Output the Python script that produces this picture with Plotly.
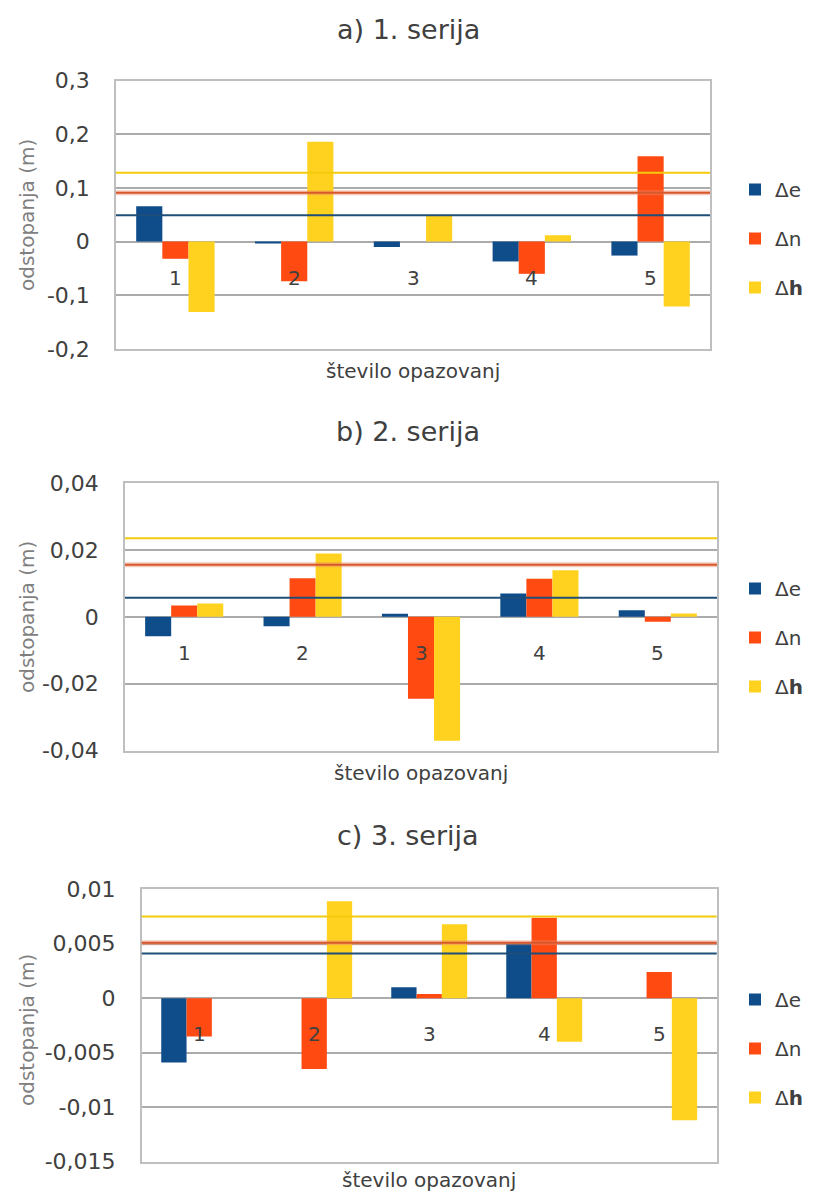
import plotly.graph_objects as go

# ---------------- data ----------------
categories = ["1", "2", "3", "4", "5"]
series_names = ["Δe", "Δn", "Δ<b>h</b>"]
series_colors = ["#0F4C8A", "#FF4A12", "#FFD21F"]
line_colors = ["#1F4E79", "#D9582B", "#F2CC0C"]

panel_titles = ["a) 1. serija", "b) 2. serija", "c) 3. serija"]
x_title = "število opazovanj"
y_title = "odstopanja (m)"

a_de = [0.066, -0.003, -0.010, -0.037, -0.026]
a_dn = [-0.032, -0.074, 0.0, -0.060, 0.159]
a_dh = [-0.131, 0.186, 0.048, 0.012, -0.121]
a_lines = [0.049, 0.091, 0.128]
a_ticks = [-0.2, -0.1, 0, 0.1, 0.2, 0.3]
a_ticktext = ["-0,2", "-0,1", "0", "0,1", "0,2", "0,3"]

b_de = [-0.0058, -0.0028, 0.0009, 0.0070, 0.0020]
b_dn = [0.0034, 0.0115, -0.0245, 0.0114, -0.0015]
b_dh = [0.0040, 0.0189, -0.0370, 0.0139, 0.0010]
b_lines = [0.0057, 0.0156, 0.0235]
b_ticks = [-0.04, -0.02, 0, 0.02, 0.04]
b_ticktext = ["-0,04", "-0,02", "0", "0,02", "0,04"]

c_de = [-0.0059, 0.0, 0.0010, 0.0050, 0.0]
c_dn = [-0.0035, -0.0065, 0.0004, 0.0074, 0.0024]
c_dh = [0.0, 0.0089, 0.0068, -0.0040, -0.0112]
c_lines = [0.0041, 0.0051, 0.0075]
c_ticks = [-0.015, -0.01, -0.005, 0, 0.005, 0.01]
c_ticktext = ["-0,015", "-0,01", "-0,005", "0", "0,005", "0,01"]

# ---------------- layout geometry ----------------
W, H = 813, 1194
FONT = "DejaVu Sans"
TXT = "#404040"

panels = [
    dict(series=[a_de, a_dn, a_dh], lines=a_lines, ticks=a_ticks, ticktext=a_ticktext,
         xdom=[116 / W, 710 / W], ydom=[1 - 349 / H, 1 - 80.5 / H],
         title_y=1 - 30 / H, xt_y=1 - 371 / H, yt_y=1 - 215 / H, leg_y=1 - 170 / H),
    dict(series=[b_de, b_dn, b_dh], lines=b_lines, ticks=b_ticks, ticktext=b_ticktext,
         xdom=[125 / W, 717 / W], ydom=[1 - 750.7 / H, 1 - 483 / H],
         title_y=1 - 431 / H, xt_y=1 - 773 / H, yt_y=1 - 617 / H, leg_y=1 - 569 / H),
    dict(series=[c_de, c_dn, c_dh], lines=c_lines, ticks=c_ticks, ticktext=c_ticktext,
         xdom=[141.7 / W, 716.7 / W], ydom=[1 - 1161.7 / H, 1 - 889.3 / H],
         title_y=1 - 835 / H, xt_y=1 - 1180 / H, yt_y=1 - 1030 / H, leg_y=1 - 980 / H),
]

fig = go.Figure()
annotations = []
shapes = []
layout = {}

for p_i, p in enumerate(panels):
    sfx = "" if p_i == 0 else str(p_i + 1)
    xa, ya = "x" + sfx, "y" + sfx
    legname = "legend" + sfx
    for s_i, vals in enumerate(p["series"]):
        fig.add_trace(go.Bar(
            x=categories, y=vals, name=series_names[s_i],
            marker=dict(color=series_colors[s_i], line=dict(width=0)),
            xaxis=xa, yaxis=ya, legend=legname,
            legendgroup=f"g{p_i}_{s_i}",
        ))
    layout["xaxis" + sfx] = dict(
        domain=p["xdom"], anchor=ya, type="category", automargin=False,
        showticklabels=False, showgrid=False, zeroline=False,
        showline=True, mirror=True, linecolor="#BFBFBF", linewidth=1.5, ticks="",
    )
    tk = p["ticks"]
    layout["yaxis" + sfx] = dict(
        domain=p["ydom"], anchor=xa, range=[tk[0], tk[-1]], automargin=False,
        tickvals=tk, ticktext=p["ticktext"],
        tickfont=dict(family=FONT, size=22, color=TXT),
        ticklabelstandoff=20,
        showgrid=True, gridcolor="#ABABAB", gridwidth=1.5,
        zeroline=True, zerolinecolor="#ABABAB", zerolinewidth=1.5,
        showline=True, mirror=True, linecolor="#BFBFBF", linewidth=1.5, ticks="",
    )
    layout[legname] = dict(
        x=735 / W, xanchor="left", y=p["leg_y"], yanchor="top",
        font=dict(family=FONT, size=20, color=TXT),
        bgcolor="rgba(0,0,0,0)", tracegroupgap=20, traceorder="grouped",
        itemwidth=30,
    )
    # reference lines
    for l_i, v in enumerate(p["lines"]):
        if l_i == 1:
            shapes.append(dict(type="line", xref=xa + " domain", yref=ya, x0=0, x1=1, y0=v, y1=v,
                               line=dict(color="rgba(230,140,110,0.45)", width=5), layer="above"))
        shapes.append(dict(type="line", xref=xa + " domain", yref=ya, x0=0, x1=1, y0=v, y1=v,
                           line=dict(color=line_colors[l_i], width=2), layer="above"))
    # category labels near the zero line (category index positions)
    for c_i, c in enumerate(categories):
        annotations.append(dict(x=c_i, y=0, xref=xa, yref=ya, text=c, showarrow=False,
                                yshift=-36, font=dict(family=FONT, size=20, color=TXT)))
    # panel title
    annotations.append(dict(x=408 / W, y=p["title_y"], xref="paper", yref="paper",
                            text=panel_titles[p_i], showarrow=False, yanchor="middle",
                            font=dict(family=FONT, size=27, color=TXT)))
    # x title
    annotations.append(dict(x=(p["xdom"][0] + p["xdom"][1]) / 2, y=p["xt_y"], xref="paper", yref="paper",
                            text=x_title, showarrow=False, yanchor="middle",
                            font=dict(family=FONT, size=20, color=TXT)))
    # y title
    annotations.append(dict(x=27 / W, y=p["yt_y"], xref="paper", yref="paper",
                            text=y_title, showarrow=False, textangle=-90,
                            xanchor="center", yanchor="middle",
                            font=dict(family=FONT, size=20, color="#7F7F7F")))

fig.update_layout(
    width=W, height=H,
    margin=dict(l=0, r=0, t=0, b=0, pad=0, autoexpand=False),
    paper_bgcolor="white", plot_bgcolor="white",
    barmode="group", bargap=0.34, bargroupgap=0,
    showlegend=True,
    annotations=annotations, shapes=shapes,
    **layout,
)

fig.write_html("out.html")
